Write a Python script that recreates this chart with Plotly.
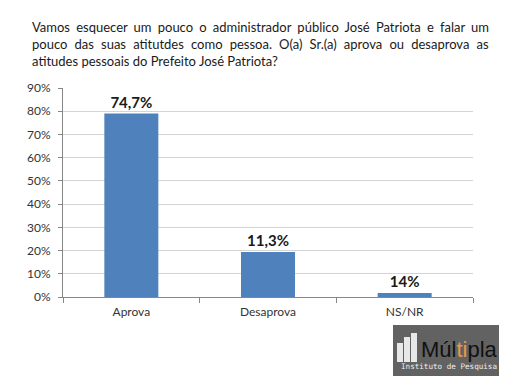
import json
import plotly.graph_objects as go

categories = ["Aprova", "Desaprova", "NS/NR"]
bar_values = [0.79, 0.194, 0.017]
bar_labels = ["74,7%", "11,3%", "14%"]
y_ticks = [0, 0.1, 0.2, 0.3, 0.4, 0.5, 0.6, 0.7, 0.8, 0.9]
y_tick_labels = ["0%", "10%", "20%", "30%", "40%", "50%", "60%", "70%", "80%", "90%"]
title_lines = [
    "Vamos esquecer um pouco o administrador público José Patriota e falar um",
    "pouco das suas atitutdes como pessoa. O(a) Sr.(a) aprova ou desaprova as",
    "atitudes pessoais do Prefeito José Patriota?",
]

FONT = "Lato, 'Open Sans', sans-serif"
W, H = 506, 380
L, R, T, B = 63, 33, 88, 83
PW = W - L - R
PH = H - T - B


def px_x(px):
    return (px - L) / PW


def px_y(py):
    return (H - B - py) / PH


fig = go.Figure()
fig.add_trace(go.Bar(
    x=categories,
    y=bar_values,
    text=bar_labels,
    textposition="outside",
    texttemplate="%{text}",
    textfont=dict(family=FONT, size=15, color="#1a1a1a", weight="bold"),
    marker=dict(color="#4F81BD", line=dict(width=0)),
    width=0.395,
    cliponaxis=False,
    hoverinfo="skip",
))

annotations = []
title_y = [27, 44, 61]
for line, yy in zip(title_lines, title_y):
    annotations.append(dict(
        text=line, xref="paper", yref="paper",
        x=px_x(30), y=px_y(yy), xanchor="left", yanchor="middle",
        showarrow=False, font=dict(family=FONT, size=13, color="#1a1a1a"),
    ))

# logo
shapes = [
    dict(type="rect", xref="paper", yref="paper",
         x0=px_x(393), x1=px_x(499), y0=px_y(376), y1=px_y(325),
         fillcolor="#626262", line=dict(width=0), layer="above"),
    dict(type="rect", xref="paper", yref="paper",
         x0=px_x(397), x1=px_x(403), y0=px_y(362), y1=px_y(343),
         fillcolor="#e8e8e8", line=dict(width=0), layer="above"),
    dict(type="rect", xref="paper", yref="paper",
         x0=px_x(404), x1=px_x(410), y0=px_y(362), y1=px_y(337),
         fillcolor="#e8e8e8", line=dict(width=0), layer="above"),
    dict(type="rect", xref="paper", yref="paper",
         x0=px_x(411), x1=px_x(417), y0=px_y(362), y1=px_y(333),
         fillcolor="#e8e8e8", line=dict(width=0), layer="above"),
]
annotations.append(dict(
    text="Múl<span style='color:#e39a4a'>ti</span>pla", xref="paper", yref="paper",
    x=px_x(419), y=px_y(349), xanchor="left", yanchor="middle",
    showarrow=False,
    font=dict(family="'Liberation Sans', sans-serif", size=22, color="#111111"),
))
annotations.append(dict(
    text="Instituto de Pesquisa", xref="paper", yref="paper",
    x=px_x(448.5), y=px_y(366), xanchor="center", yanchor="middle",
    showarrow=False, font=dict(family="'DejaVu Sans Mono', monospace", size=7.6, color="#f0f0f0"),
))

fig.update_layout(
    width=W, height=H,
    margin=dict(l=L, r=R, t=T, b=B, pad=0),
    paper_bgcolor="white", plot_bgcolor="white",
    showlegend=False,
    bargap=0.605,
    annotations=annotations,
    shapes=shapes,
    font=dict(family=FONT, color="#404040"),
)
fig.update_xaxes(
    type="category",
    showline=True, linecolor="#868686", linewidth=1,
    ticks="outside", tickson="boundaries", ticklen=5, tickcolor="#868686",
    tickfont=dict(family=FONT, size=12, color="#333333"),
    ticklabelstandoff=4,
    showgrid=False,
)
fig.update_yaxes(
    range=[0, 0.9],
    tickvals=y_ticks, ticktext=y_tick_labels,
    showline=True, linecolor="#868686", linewidth=1,
    ticks="outside", ticklen=4, tickcolor="#868686",
    tickfont=dict(family=FONT, size=12, color="#333333"),
    ticklabelstandoff=5,
    showgrid=True, gridcolor="#d4d4d4", gridwidth=1,
    zeroline=False,
)

justify_lines = json.dumps(title_lines[:2])
post = """
document.body.style.margin = '0';
document.body.style.overflow = 'hidden';
function justifyTitle() {
  var targets = %s;
  var targetWidth = 457;
  document.querySelectorAll('text.annotation-text').forEach(function (t) {
    var s = t.textContent;
    if (targets.indexOf(s) >= 0) {
      var n = (s.match(/ /g) || []).length;
      t.style.wordSpacing = '0px';
      var b0 = t.getBBox();
      var left = b0.x;
      var ws = 0;
      for (var k = 0; k < 3; k++) {
        var w = t.getBBox().width;
        ws += (targetWidth - w) / n;
        t.style.wordSpacing = ws + 'px';
      }
      var b1 = t.getBBox();
      var x = parseFloat(t.getAttribute('x') || '0');
      t.setAttribute('x', x + (left - b1.x));
    }
  });
}
if (document.fonts && document.fonts.ready) {
  document.fonts.ready.then(justifyTitle);
} else {
  justifyTitle();
}
""" % justify_lines

fig.write_html("out.html", post_script=post, config={"displayModeBar": False})
